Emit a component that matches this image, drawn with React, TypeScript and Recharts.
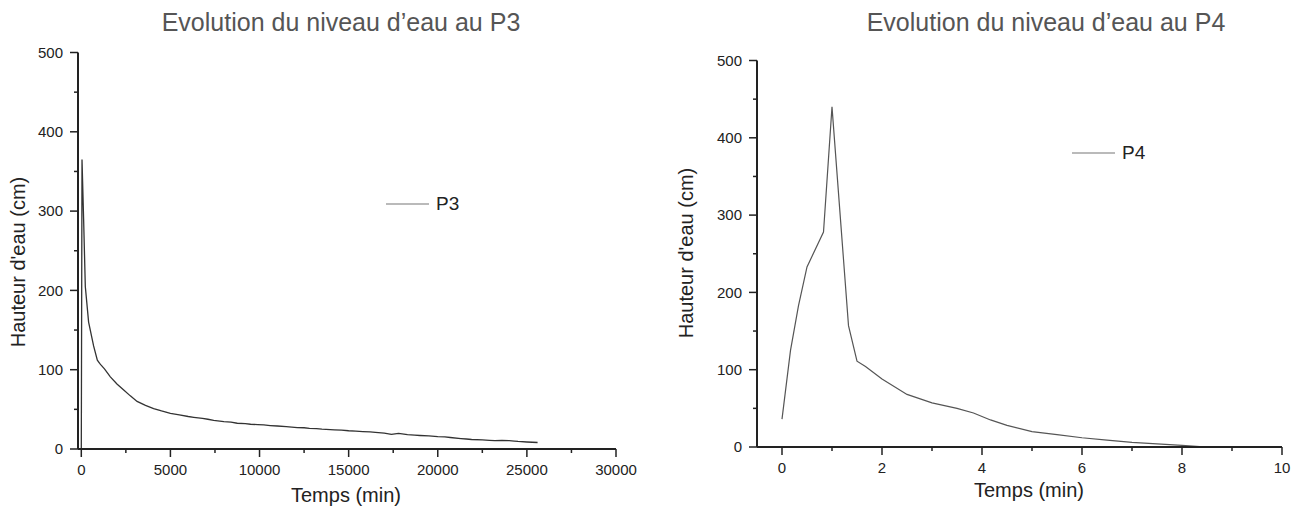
import React from 'react';
import { LineChart, Line, XAxis, YAxis, Legend } from 'recharts';

// ---------- Data ----------
const p3Time = [
  0, 40, 130, 225, 410, 690, 900, 1030, 1100, 1300,
  1630, 2000, 2380, 2750, 3130, 3600, 4060, 4500, 5000, 5500,
  6000, 6310, 6800, 7100, 7430, 8000, 8400, 8750, 9200, 9500,
  9900, 10240, 10600, 11000, 11500, 12120, 12500, 12800, 13200, 13500,
  14200, 14600, 15000, 15400, 15800, 16200, 16500, 17000, 17400, 17800,
  18300, 18700, 19000, 19500, 20000, 20400, 20700, 21300, 21600, 21900,
  22500, 22900, 23200, 23600, 24000, 24300, 24500, 25000, 25300, 25600,
];
const p3Level = [
  0, 365, 290, 205, 160, 130, 112, 108, 106, 101,
  91, 82, 74.5, 67, 60, 55, 51, 48, 45, 43,
  41, 40, 38.5, 37.5, 36, 34.5, 33.8, 32.5, 32, 31.2,
  30.8, 30.3, 29.6, 29, 28.3, 27, 26.8, 26, 25.6, 25,
  24.2, 23.8, 23, 22.6, 22, 21.5, 21, 20, 18.5, 19.6,
  18, 17.4, 17, 16.5, 15.6, 15.2, 14.5, 13.2, 12.6, 12,
  11.4, 11, 10.6, 10.8, 10.5, 10, 9.5, 8.8, 8.5, 8.2,
];

const p4Time = [0, 0.17, 0.33, 0.5, 0.83, 1.0, 1.33, 1.5, 1.67, 2.0, 2.5, 3.0, 3.5, 3.83, 4.17, 4.5, 5.0, 5.5, 6.0, 6.5, 7.0, 7.5, 8.0, 8.5];
const p4Level = [36, 125, 183, 233, 278, 440, 157, 111, 104, 88, 68, 57, 50, 44, 35, 28, 20, 16, 12, 9, 6, 4, 2, 0];

const p3Ticks = [0, 2500, 5000, 7500, 10000, 12500, 15000, 17500, 20000, 22500, 25000, 27500, 30000];
const p4Ticks = [0, 1, 2, 3, 4, 5, 6, 7, 8, 9, 10];
const yTicks = [0, 50, 100, 150, 200, 250, 300, 350, 400, 450, 500];

const p3Data = p3Time.map((t, i) => ({ t, h: p3Level[i] }));
const p4Data = p4Time.map((t, i) => ({ t, h: p4Level[i] }));

// ---------- Styles ----------
const FONT = '"Liberation Sans", Arial, sans-serif';
const AXIS = '#222';
const TEXT = '#222';

const BottomTick = (props: any) => {
  const { x, y, payload, step } = props;
  const v = payload.value;
  const major = Math.abs(v / step - Math.round(v / step)) < 1e-9;
  return (
    <g>
      <line x1={x} y1={y} x2={x} y2={y + (major ? 8 : 4)} stroke={AXIS} strokeWidth={1.5} />
      {major && (
        <text x={x} y={y + 15} dy="0.71em" textAnchor="middle" fontSize={15} fill={TEXT} fontFamily={FONT}>
          {v}
        </text>
      )}
    </g>
  );
};

const LeftTick = (props: any) => {
  const { x, y, payload } = props;
  const v = payload.value;
  const major = v % 100 === 0;
  return (
    <g>
      <line x1={x} y1={y} x2={x - (major ? 8 : 4)} y2={y} stroke={AXIS} strokeWidth={1.5} />
      {major && (
        <text x={x - 15} y={y} dy="0.355em" textAnchor="end" fontSize={15} fill={TEXT} fontFamily={FONT}>
          {v}
        </text>
      )}
    </g>
  );
};

const LegendItem = ({ label }: { label: string }) => (
  <div style={{ display: 'flex', alignItems: 'center', height: 20, fontFamily: FONT }}>
    <svg width={44} height={4} style={{ display: 'block' }}>
      <line x1={0} y1={2} x2={43} y2={2} stroke="#777" strokeWidth={1.2} />
    </svg>
    <span style={{ marginLeft: 6, fontSize: 19, lineHeight: '20px', color: '#222' }}>{label}</span>
  </div>
);

const abs = (s: React.CSSProperties): React.CSSProperties => ({ position: 'absolute', ...s });

export default function App() {
  return (
    <div style={abs({ left: 0, top: 0, width: 1291, height: 508, background: '#fff', overflow: 'hidden', fontFamily: FONT })}>
      {/* Titles */}
      <div style={abs({ left: 141, top: 10, width: 400, textAlign: 'center', fontSize: 25, lineHeight: '25px', color: '#555', whiteSpace: 'nowrap' })}>
        Evolution du niveau d’eau au P3
      </div>
      <div style={abs({ left: 846, top: 10, width: 400, textAlign: 'center', fontSize: 25, lineHeight: '25px', color: '#555', whiteSpace: 'nowrap' })}>
        Evolution du niveau d’eau au P4
      </div>

      {/* Left chart */}
      <div style={abs({ left: 0, top: 0 })}>
        <LineChart width={650} height={508} data={p3Data} margin={{ top: 52.5, right: 34, bottom: 0, left: 18 }}>
          <XAxis
            type="number"
            dataKey="t"
            domain={[-185, 30000]}
            ticks={p3Ticks}
            interval={0}
            height={59}
            tickSize={0}
            tickMargin={0}
            tickLine={false}
            axisLine={{ stroke: AXIS, strokeWidth: 2 }}
            tick={(p: any) => <BottomTick {...p} step={5000} />}
          />
          <YAxis
            type="number"
            domain={[0, 500]}
            ticks={yTicks}
            interval={0}
            width={60}
            tickSize={0}
            tickMargin={0}
            tickLine={false}
            axisLine={{ stroke: AXIS, strokeWidth: 2 }}
            tick={(p: any) => <LeftTick {...p} />}
          />
          <Legend
            layout="vertical"
            align="center"
            verticalAlign="middle"
            wrapperStyle={{ left: 386, top: 193.5, width: 100 }}
            content={() => <LegendItem label="P3" />}
          />
          <Line type="linear" dataKey="h" stroke="#333" strokeWidth={1.3} dot={false} isAnimationActive={false} />
        </LineChart>
      </div>

      {/* Right chart */}
      <div style={abs({ left: 650, top: 0 })}>
        <LineChart width={641} height={508} data={p4Data} margin={{ top: 60.5, right: 9, bottom: 0, left: 47 }}>
          <XAxis
            type="number"
            dataKey="t"
            domain={[-0.5, 10]}
            ticks={p4Ticks}
            interval={0}
            height={61}
            tickSize={0}
            tickMargin={0}
            tickLine={false}
            axisLine={{ stroke: AXIS, strokeWidth: 2 }}
            tick={(p: any) => <BottomTick {...p} step={2} />}
          />
          <YAxis
            type="number"
            domain={[0, 500]}
            ticks={yTicks}
            interval={0}
            width={60}
            tickSize={0}
            tickMargin={0}
            tickLine={false}
            axisLine={{ stroke: AXIS, strokeWidth: 2 }}
            tick={(p: any) => <LeftTick {...p} />}
          />
          <Legend
            layout="vertical"
            align="center"
            verticalAlign="middle"
            wrapperStyle={{ left: 422, top: 143, width: 100 }}
            content={() => <LegendItem label="P4" />}
          />
          <Line type="linear" dataKey="h" stroke="#555" strokeWidth={1.2} dot={false} isAnimationActive={false} />
        </LineChart>
      </div>

      {/* Axis titles */}
      <div style={abs({ left: 246, top: 485, width: 200, textAlign: 'center', fontSize: 20, lineHeight: '20px', color: TEXT, whiteSpace: 'nowrap' })}>
        Temps (min)
      </div>
      <div style={abs({ left: 929, top: 480, width: 200, textAlign: 'center', fontSize: 20, lineHeight: '20px', color: TEXT, whiteSpace: 'nowrap' })}>
        Temps (min)
      </div>
      <div style={abs({ left: 18, top: 262, transform: 'translate(-50%, -50%) rotate(-90deg)', fontSize: 20, lineHeight: '20px', color: TEXT, whiteSpace: 'nowrap' })}>
        Hauteur d'eau (cm)
      </div>
      <div style={abs({ left: 686, top: 253, transform: 'translate(-50%, -50%) rotate(-90deg)', fontSize: 20, lineHeight: '20px', color: TEXT, whiteSpace: 'nowrap' })}>
        Hauteur d'eau (cm)
      </div>
    </div>
  );
}
